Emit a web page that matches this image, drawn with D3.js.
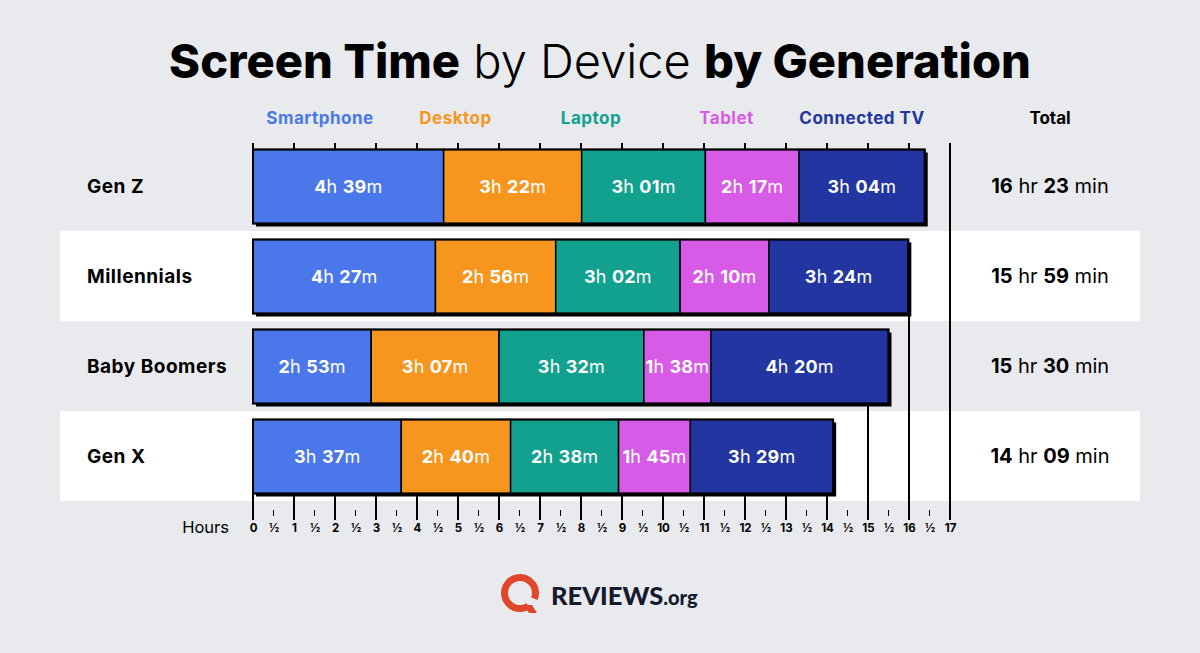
<!doctype html>
<html lang="en">
<head>
  <meta charset="utf-8">
  <title>Screen Time by Device by Generation</title>
  <script src="https://d3js.org/d3.v7.min.js"></script>
  <style>
    body { margin: 0; background: #e9eaed; }
    svg { display: block; font-family: Inter, "Noto Sans", sans-serif; }
  </style>
</head>
<body>
  <div id="chart"></div>
<script>
  // data (minutes per day)
  const generations = ["Gen Z", "Millennials", "Baby Boomers", "Gen X"];
  const devices = ["Smartphone", "Desktop", "Laptop", "Tablet", "Connected TV"];
  const smartphone = [279, 267, 173, 217];
  const desktop = [202, 176, 187, 160];
  const laptop = [181, 182, 212, 158];
  const tablet = [137, 130, 98, 105];
  const connectedTV = [184, 204, 260, 209];
  const hourTicks = d3.range(0, 17.5, 0.5);

  const colors = ["#4a78ea", "#f6961f", "#12a18e", "#d75be6", "#2235a0"];

  const width = 1200, height = 653;

  const table = generations.map((g, i) => ({
    gen: g,
    "Smartphone": smartphone[i],
    "Desktop": desktop[i],
    "Laptop": laptop[i],
    "Tablet": tablet[i],
    "Connected TV": connectedTV[i]
  }));
  const totals = table.map(d => d3.sum(devices, k => d[k]));
  const series = d3.stack().keys(devices)(table);

  const x = d3.scaleLinear().domain([0, 17]).range([253, 950]);
  const y = d3.scaleBand().domain(generations).range([141, 501]);
  const barPad = 8.5, barH = 74;
  const axisY = 520;

  const svg = d3.select('#chart').append('svg')
    .attr('width', width)
    .attr('height', height);

  svg.append('rect').attr('width', width).attr('height', height).attr('fill', '#e9eaed');

  // title
  const title = svg.append('text')
    .attr('x', width / 2).attr('y', 78)
    .attr('text-anchor', 'middle')
    .style('font-size', '48px')
    .attr('fill', '#000');
  title.append('tspan').attr('font-weight', 800).text('Screen Time');
  title.append('tspan').attr('font-weight', 300).text(' by Device ');
  title.append('tspan').attr('font-weight', 800).text('by Generation');
  const tw = title.node().getComputedTextLength();
  title.style('font-size', (48 * 862 / tw) + 'px');

  // white row bands
  svg.selectAll('.band')
    .data(generations.filter((d, i) => i % 2 === 1))
    .enter().append('rect')
      .attr('x', 60).attr('width', 1080)
      .attr('y', d => y(d)).attr('height', y.bandwidth())
      .attr('fill', '#fff');

  // legend
  const legendX = d3.scalePoint().domain(devices).range([320, 862]);
  svg.selectAll('.legend')
    .data(devices)
    .enter().append('text')
      .attr('x', d => legendX(d)).attr('y', 124)
      .attr('text-anchor', 'middle')
      .attr('font-weight', 700)
      .style('font-size', '17px')
      .style('letter-spacing', '0.5px')
      .attr('fill', (d, i) => colors[i])
      .text(d => d);
  svg.append('text')
    .attr('x', 1050).attr('y', 124)
    .attr('text-anchor', 'middle')
    .attr('font-weight', 700)
    .style('font-size', '17px')
    .text('Total');

  // long hour lines up to the lowest bar reaching them
  const majors = hourTicks.filter(t => t % 1 === 0);
  svg.selectAll('.major')
    .data(majors)
    .enter().append('line')
      .attr('x1', d => x(d)).attr('x2', d => x(d))
      .attr('y1', d => {
        for (let i = generations.length - 1; i >= 0; i--) {
          if (totals[i] / 60 >= d - 0.05) return y(generations[i]) + barPad + barH;
        }
        return 143;
      })
      .attr('y2', axisY)
      .attr('stroke', '#000').attr('stroke-width', 2);
  // short ticks on top of first bar
  svg.selectAll('.topTick')
    .data(majors.filter(t => t < 17))
    .enter().append('line')
      .attr('x1', d => x(d)).attr('x2', d => x(d))
      .attr('y1', 143).attr('y2', y(generations[0]) + barPad)
      .attr('stroke', '#000').attr('stroke-width', 2);
  // half ticks
  svg.selectAll('.halfTick')
    .data(hourTicks.filter(t => t % 1 !== 0))
    .enter().append('line')
      .attr('x1', d => x(d)).attr('x2', d => x(d))
      .attr('y1', 510).attr('y2', 516)
      .attr('stroke', '#000').attr('stroke-width', 1);

  // axis labels
  const axis = svg.append('g')
    .attr('transform', 'translate(0,' + 524 + ')')
    .call(d3.axisBottom(x)
      .tickValues(hourTicks)
      .tickSize(0)
      .tickPadding(0)
      .tickFormat(d => d % 1 === 0 ? d : '½'));
  axis.select('.domain').remove();
  axis.selectAll('text')
    .attr('font-family', 'Inter, sans-serif')
    .attr('font-weight', 700)
    .style('font-size', '11.5px')
    .attr('fill', '#000');
  svg.append('text')
    .attr('x', 229).attr('y', 533)
    .attr('text-anchor', 'end')
    .style('font-size', '16.5px')
    .text('Hours');

  // shadows
  svg.selectAll('.shadow')
    .data(table)
    .enter().append('rect')
      .attr('x', x(0) + 3)
      .attr('y', d => y(d.gen) + barPad + 3)
      .attr('width', (d, i) => x(totals[i] / 60) - x(0))
      .attr('height', barH)
      .attr('fill', '#000');

  // segments
  const layer = svg.selectAll('.layer')
    .data(series)
    .enter().append('g')
      .attr('fill', (d, i) => colors[i]);
  layer.selectAll('rect')
    .data(d => d)
    .enter().append('rect')
      .attr('x', d => x(d[0] / 60))
      .attr('y', d => y(d.data.gen) + barPad)
      .attr('width', d => x(d[1] / 60) - x(d[0] / 60))
      .attr('height', barH)
      .attr('stroke', '#000')
      .attr('stroke-width', 1.5);

  // outer borders
  svg.selectAll('.border')
    .data(table)
    .enter().append('rect')
      .attr('x', x(0))
      .attr('y', d => y(d.gen) + barPad)
      .attr('width', (d, i) => x(totals[i] / 60) - x(0))
      .attr('height', barH)
      .attr('fill', 'none')
      .attr('stroke', '#000')
      .attr('stroke-width', 2);

  // segment labels
  layer.each(function (s) {
    d3.select(this).selectAll('text')
      .data(s)
      .enter().append('text')
        .attr('x', d => (x(d[0] / 60) + x(d[1] / 60)) / 2)
        .attr('y', d => y(d.data.gen) + y.bandwidth() / 2 + 6.5)
        .attr('text-anchor', 'middle')
        .style('font-size', '18px')
        .style('letter-spacing', '0.2px')
        .attr('fill', '#fff')
        .each(function (d) {
          const m = d[1] - d[0];
          const t = d3.select(this);
          t.append('tspan').attr('font-weight', 700).text(Math.floor(m / 60));
          t.append('tspan').attr('font-weight', 400).text('h ');
          t.append('tspan').attr('font-weight', 700).text(String(m % 60).padStart(2, '0'));
          t.append('tspan').attr('font-weight', 400).text('m');
        });
  });

  // row labels
  svg.selectAll('.rowLabel')
    .data(generations)
    .enter().append('text')
      .attr('x', 87)
      .attr('y', d => y(d) + y.bandwidth() / 2 + 6.5)
      .attr('font-weight', 700)
      .style('font-size', '19px')
      .style('letter-spacing', '0.5px')
      .text(d => d);

  // totals
  svg.selectAll('.total')
    .data(totals)
    .enter().append('text')
      .attr('x', 1050)
      .attr('y', (d, i) => y(generations[i]) + y.bandwidth() / 2 + 6.5)
      .attr('text-anchor', 'middle')
      .style('font-size', '20px')
      .each(function (d) {
        const t = d3.select(this);
        t.append('tspan').attr('font-weight', 700).text(Math.floor(d / 60));
        t.append('tspan').attr('font-weight', 400).text(' hr ');
        t.append('tspan').attr('font-weight', 700).text(String(d % 60).padStart(2, '0'));
        t.append('tspan').attr('font-weight', 400).text(' min');
      });

  // logo
  const logo = svg.append('g').attr('transform', 'translate(520,593)');
  logo.append('path')
    .attr('d', d3.arc().innerRadius(12).outerRadius(19).startAngle(Math.PI * 0.82).endAngle(Math.PI * 2.62)())
    .attr('fill', '#e0472a');
  logo.append('path')
    .attr('d', 'M4,12 L12,12 L17,20 L9,20 Z')
    .attr('fill', '#e0472a');
  const brand = svg.append('text')
    .attr('x', 551).attr('y', 605)
    .attr('font-family', 'Lato, sans-serif')
    .attr('font-weight', 900)
    .attr('fill', '#151a2d');
  brand.append('tspan').style('font-size', '25.5px').text('REVIEWS');
  brand.append('tspan').style('font-size', '20px').text('.org');
</script>
</body>
</html>
